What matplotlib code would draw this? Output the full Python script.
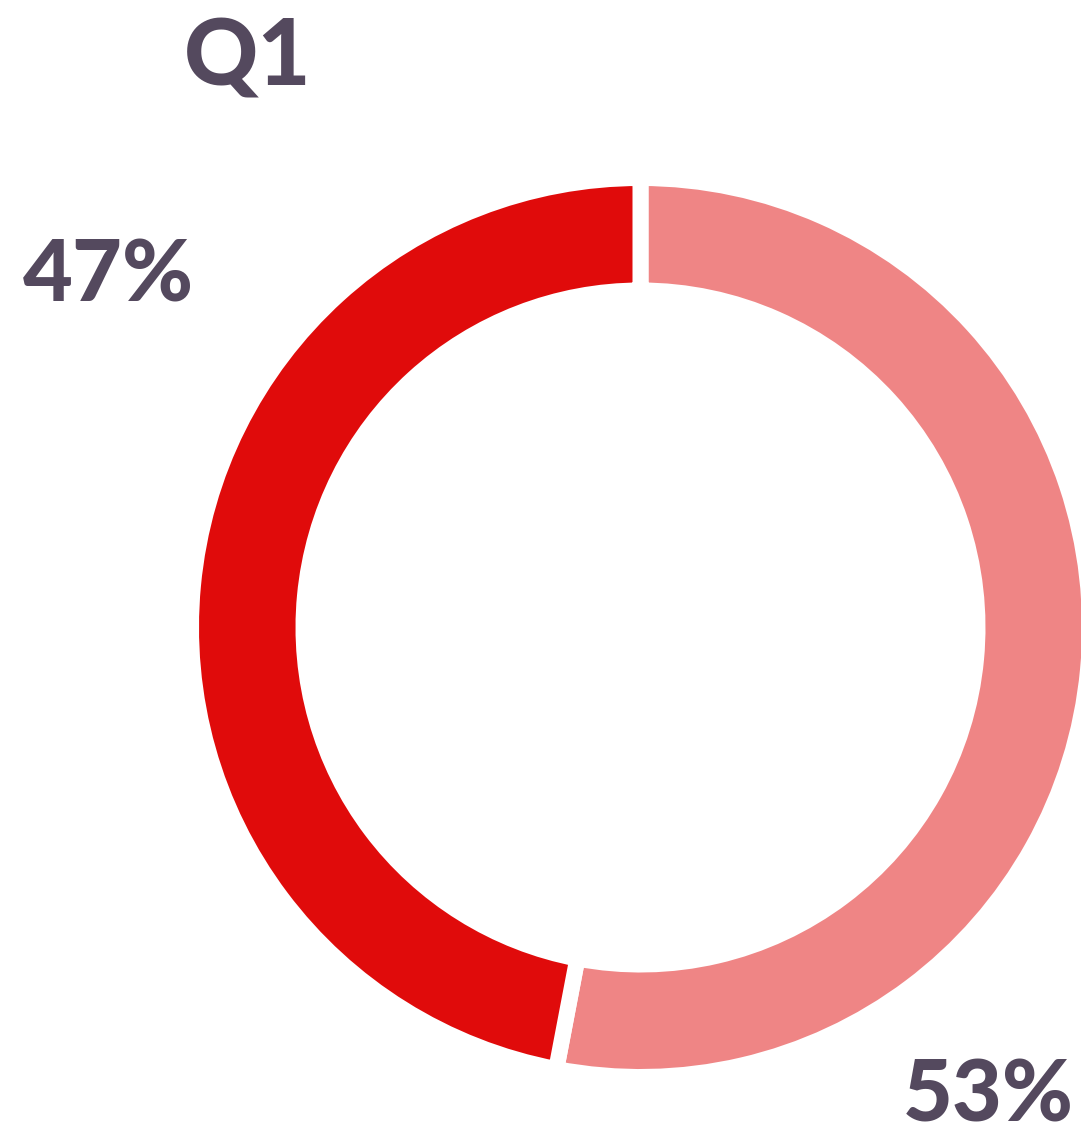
import matplotlib
matplotlib.use("Agg")
import matplotlib.pyplot as plt

# Data
labels = ["53%", "47%"]
values = [53, 47]
colors = ["#EF8585", "#E00B0B"]
title = "Q1"

W, H = 1081, 1135
fig = plt.figure(figsize=(W / 100, H / 100), dpi=100)
ax = fig.add_axes([0, 0, 1, 1])

gap_px = 16
lw = gap_px * 72 / 100
outer = 441.5 + gap_px / 2
inner = 345 - gap_px / 2
ax.pie(values, colors=colors, startangle=90, counterclock=False,
       center=(640.5, H - 627.5), radius=outer,
       wedgeprops=dict(width=outer - inner, edgecolor="white", linewidth=lw))
ax.set_xlim(0, W)
ax.set_ylim(0, H)
ax.set_aspect("equal")
ax.axis("off")

txt_color = "#54495E"
font = dict(family="Lato", weight="black", color=txt_color)
ax.text(184, H - 85, title, fontsize=66, ha="left", va="baseline", **font)
ax.text(23, H - 302, labels[1], fontsize=62, ha="left", va="baseline", **font)
ax.text(1074, H - 1122, labels[0], fontsize=62, ha="right", va="baseline", **font)

fig.savefig("out.png", dpi=100, facecolor="white")
